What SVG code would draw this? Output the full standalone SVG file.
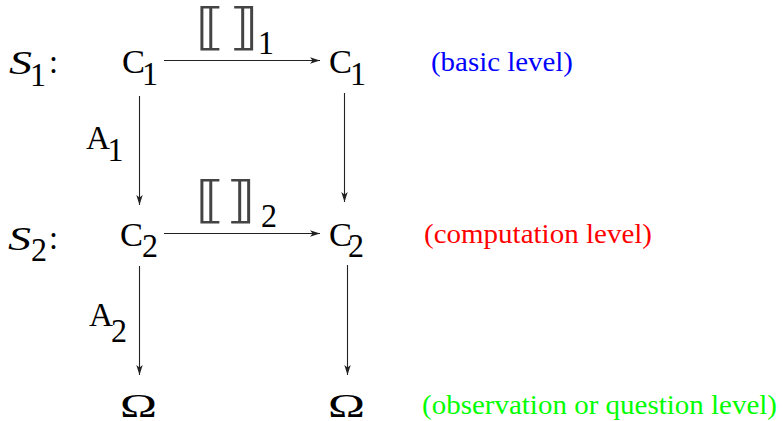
<svg xmlns="http://www.w3.org/2000/svg" width="783" height="421" viewBox="0 0 783 421">
<defs>
<style>
.t{font-family:"Liberation Serif","Times New Roman",serif;font-size:33px;fill:#000}
.s{font-family:"Liberation Serif","Times New Roman",serif;font-style:italic;font-size:33px;fill:#000}
.br{font-family:"DejaVu Sans","DejaVu Serif",sans-serif;font-size:50px;fill:#444}
.lab{font-family:"Liberation Serif","Times New Roman",serif;font-size:27px}
.e{stroke:#222;stroke-width:1.1;fill:none}
</style>
<marker id="ah" markerUnits="userSpaceOnUse" markerWidth="12" markerHeight="8" refX="10" refY="3.5" orient="auto">
<path d="M0,0.3 L10,3.5 L0,6.7 L2.5,3.5 Z" fill="#222"/>
</marker>
</defs>
<rect width="783" height="421" fill="#fff"/>

<g id="S1-label">
<text class="s" x="9" y="74" textLength="23" lengthAdjust="spacingAndGlyphs">S</text>
<text class="t" x="30" y="86" textLength="16" lengthAdjust="spacingAndGlyphs">1</text>
<text class="t" x="49" y="73" textLength="9" lengthAdjust="spacingAndGlyphs">:</text>
</g>
<g id="S2-label">
<text class="s" x="8" y="250" textLength="23" lengthAdjust="spacingAndGlyphs">S</text>
<text class="t" x="31" y="261" textLength="16" lengthAdjust="spacingAndGlyphs">2</text>
<text class="t" x="49" y="249" textLength="9" lengthAdjust="spacingAndGlyphs">:</text>
</g>

<g id="C1-left">
<text class="t" x="122" y="73" textLength="23" lengthAdjust="spacingAndGlyphs">C</text>
<text class="t" x="142" y="85" textLength="16" lengthAdjust="spacingAndGlyphs">1</text>
</g>
<g id="C1-right">
<text class="t" x="329" y="73" textLength="23" lengthAdjust="spacingAndGlyphs">C</text>
<text class="t" x="350" y="85" textLength="16" lengthAdjust="spacingAndGlyphs">1</text>
</g>
<g id="C2-left">
<text class="t" x="120" y="246" textLength="23" lengthAdjust="spacingAndGlyphs">C</text>
<text class="t" x="142" y="257" textLength="16" lengthAdjust="spacingAndGlyphs">2</text>
</g>
<g id="C2-right">
<text class="t" x="329" y="246" textLength="23" lengthAdjust="spacingAndGlyphs">C</text>
<text class="t" x="348" y="257" textLength="16" lengthAdjust="spacingAndGlyphs">2</text>
</g>
<g id="Omega-left">
<text class="t" x="120" y="417" font-size="29" textLength="37" lengthAdjust="spacingAndGlyphs">Ω</text>
</g>
<g id="Omega-right">
<text class="t" x="328" y="417" font-size="29" textLength="37" lengthAdjust="spacingAndGlyphs">Ω</text>
</g>

<g id="level-labels">
<text class="lab" x="431" y="71" fill="#0000ff" textLength="142" lengthAdjust="spacingAndGlyphs">(basic level)</text>
<text class="lab" x="424" y="243" fill="#ff0000" textLength="228" lengthAdjust="spacingAndGlyphs">(computation level)</text>
<text class="lab" x="422" y="414" fill="#00ff00" textLength="355" lengthAdjust="spacingAndGlyphs">(observation or question level)</text>
</g>

<g id="connectors">
<line class="e" x1="164" y1="60.5" x2="320" y2="60.5" marker-end="url(#ah)"/>
<line class="e" x1="164" y1="233.5" x2="320" y2="233.5" marker-end="url(#ah)"/>
<line class="e" x1="139.5" y1="96" x2="139.5" y2="205" marker-end="url(#ah)"/>
<line class="e" x1="344.5" y1="93" x2="344.5" y2="202" marker-end="url(#ah)"/>
<line class="e" x1="139.5" y1="266" x2="139.5" y2="375" marker-end="url(#ah)"/>
<line class="e" x1="347.5" y1="265" x2="347.5" y2="375" marker-end="url(#ah)"/>
</g>

<g id="edge-labels">
<text class="br" x="195" y="44" textLength="30" lengthAdjust="spacingAndGlyphs">⟦</text>
<text class="br" x="229" y="44" textLength="30" lengthAdjust="spacingAndGlyphs">⟧</text>
<text class="t" x="258" y="54" textLength="16" lengthAdjust="spacingAndGlyphs">1</text>
<text class="br" x="195" y="217" textLength="30" lengthAdjust="spacingAndGlyphs">⟦</text>
<text class="br" x="226" y="217" textLength="30" lengthAdjust="spacingAndGlyphs">⟧</text>
<text class="t" x="261" y="227" textLength="16" lengthAdjust="spacingAndGlyphs">2</text>
<text class="t" x="86" y="149" textLength="24" lengthAdjust="spacingAndGlyphs">A</text>
<text class="t" x="107.5" y="161" textLength="16" lengthAdjust="spacingAndGlyphs">1</text>
<text class="t" x="89" y="326" textLength="24" lengthAdjust="spacingAndGlyphs">A</text>
<text class="t" x="111" y="342" textLength="16" lengthAdjust="spacingAndGlyphs">2</text>
</g>
</svg>
